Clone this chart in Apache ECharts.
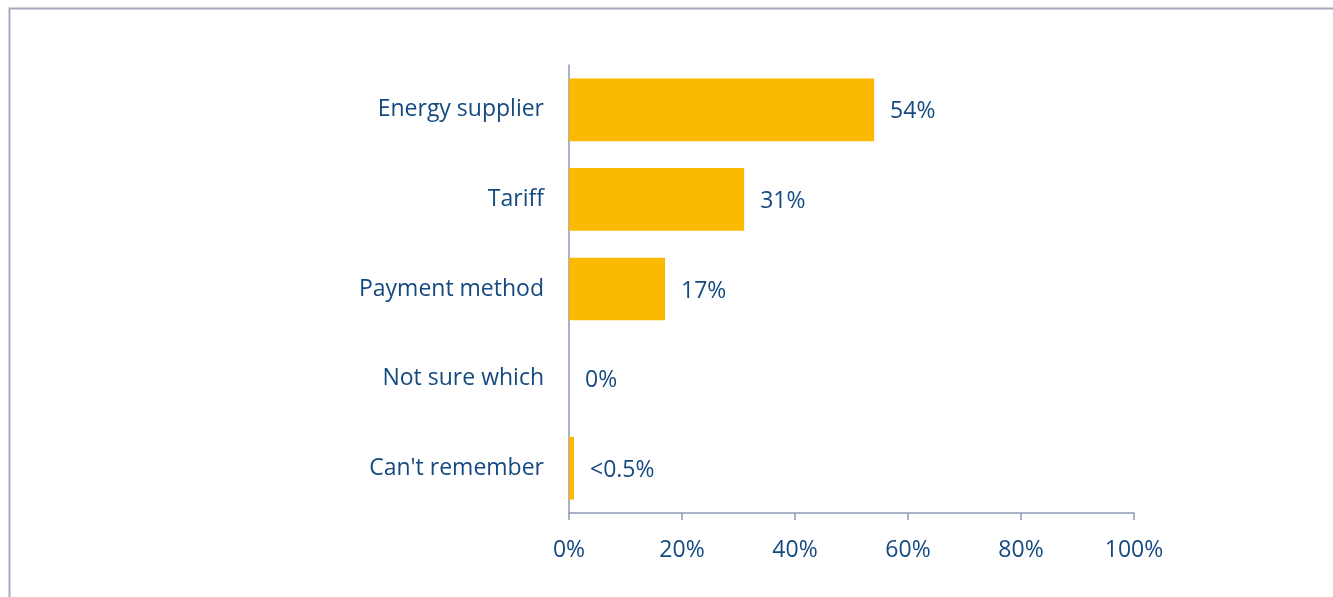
<!DOCTYPE html>
<html>
<head>
<meta charset="utf-8">
<script src="https://cdn.jsdelivr.net/npm/echarts@6/dist/echarts.min.js"></script>
<style>
  html, body { margin: 0; padding: 0; background: #ffffff; }
  #chart { width: 1333px; height: 597px; }
</style>
</head>
<body>
<div id="chart"></div>
<script>
// Categories, top to bottom
const categories = ['Energy supplier', 'Tariff', 'Payment method', 'Not sure which', "Can't remember"];
// Share of respondents (%) for each category
const values = [54, 31, 17, 0, 0.4];
// Text printed beside each bar
const valueLabels = ['54%', '31%', '17%', '0%', '<0.5%'];
// Value axis ticks
const xTicks = [0, 20, 40, 60, 80, 100];

const textColor = '#154A80';
const barColor = '#FBBA00';
const axisColor = '#8E99B5';
const fontFamily = 'Open Sans, Lato, sans-serif';
const fontSize = 23;

// Small values get a minimum visible bar length; the rest draw at true scale
const isTiny = v => v > 0 && v < 0.5;
const mainData = values.map(v => (isTiny(v) ? '-' : v));
const tinyData = values.map(v => (isTiny(v) ? v : '-'));

const labelCfg = {
  show: true,
  position: 'right',
  distance: 16,
  offset: [0, 2],
  color: textColor,
  fontSize: fontSize,
  fontFamily: fontFamily,
  formatter: p => valueLabels[p.dataIndex]
};

const chart = echarts.init(document.getElementById('chart'), null, { renderer: 'canvas' });
chart.setOption({
  backgroundColor: '#ffffff',
  animation: false,
  graphic: [{
    type: 'rect',
    shape: { x: 9.5, y: 8.5, width: 1500, height: 800 },
    style: { fill: 'none', stroke: '#A3A9C0', lineWidth: 2 },
    silent: true,
    z: -1
  }],
  grid: { left: 569, right: 199, top: 65, bottom: 84, containLabel: false },
  xAxis: {
    type: 'value',
    min: 0,
    max: 100,
    interval: 20,
    axisLine: { show: true, lineStyle: { color: axisColor, width: 1.5 } },
    axisTick: { show: true, length: 7, lineStyle: { color: axisColor, width: 1.5 } },
    splitLine: { show: false },
    axisLabel: {
      margin: 26,
      color: textColor,
      fontSize: fontSize,
      fontFamily: fontFamily,
      formatter: v => (xTicks.includes(v) ? v + '%' : '')
    }
  },
  yAxis: {
    type: 'category',
    inverse: true,
    data: categories,
    axisLine: { show: true, lineStyle: { color: axisColor, width: 1.5 } },
    axisTick: { show: false },
    axisLabel: {
      margin: 25,
      color: textColor,
      fontSize: fontSize,
      fontFamily: fontFamily,
      padding: [8, 0, 0, 0]
    }
  },
  series: [
    {
      type: 'bar',
      data: mainData,
      barCategoryGap: '30%',
      itemStyle: { color: barColor },
      label: labelCfg
    },
    {
      type: 'bar',
      data: tinyData,
      barGap: '-100%',
      barCategoryGap: '30%',
      barMinHeight: 5,
      itemStyle: { color: barColor },
      label: labelCfg
    }
  ]
});
</script>
</body>
</html>
